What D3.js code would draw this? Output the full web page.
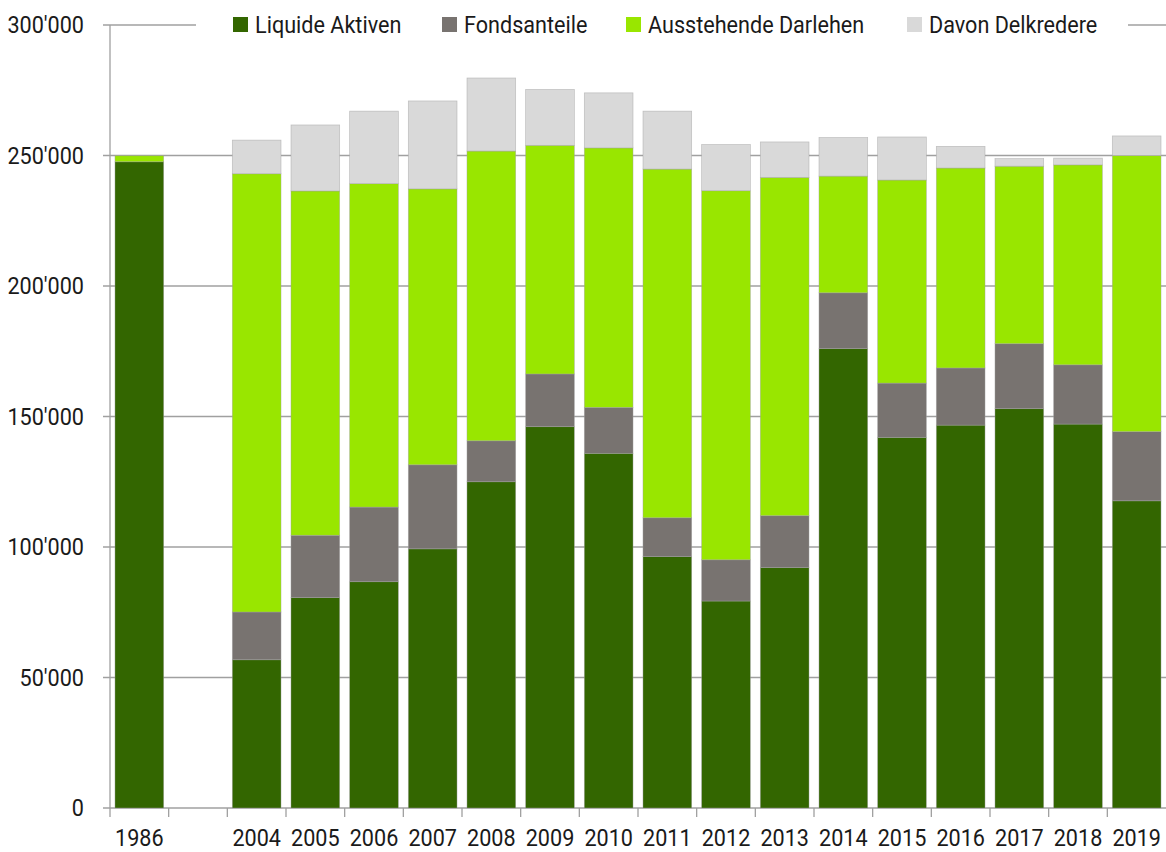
<!DOCTYPE html>
<html><head><meta charset="utf-8">
<script src="https://cdn.jsdelivr.net/npm/d3@7"></script>
<style>
html,body{margin:0;padding:0;background:#fff;}
svg{display:block;font-family:Roboto,"Liberation Sans",sans-serif;}
</style></head>
<body>
<svg id="chart" width="1166" height="852"></svg>
<script>
const categories = ["1986","","2004","2005","2006","2007","2008","2009","2010","2011","2012","2013","2014","2015","2016","2017","2018","2019"];
const liquideAktiven   = [247600,null,56800,80600,86700,99300,125000,146100,135900,96300,79300,92100,176000,142000,146700,153000,147100,117700];
const fondsanteile     = [0,null,18300,23900,28600,32200,15700,20200,17600,14900,15800,19900,21400,20800,21900,24900,22700,26500];
const ausstehendeDarlehen = [2300,null,167900,131900,123900,105700,111000,87600,99400,133600,141400,129600,44700,77800,76600,68000,76600,105800];
const davonDelkredere  = [0,null,12900,25300,27800,33700,28000,21400,21100,22200,17700,13600,14800,16500,8300,2900,2600,7500];
const seriesNames = ["Liquide Aktiven","Fondsanteile","Ausstehende Darlehen","Davon Delkredere"];
const colors = ["#336600","#787370","#99e600","#d9d9d9"];
const yTicks = [0,50000,100000,150000,200000,250000,300000];

const svg = d3.select("#chart");
const L = 110, R = 1166, T = 25, B = 808;
const SX = 0.9, FS = 24, TXT = "#1a1a1a";
const x = d3.scaleBand().domain(categories).range([L, R]).paddingInner(0.17).paddingOuter(0.085);
const y = d3.scaleLinear().domain([0, 300000]).range([B, T]);
const fmt = v => d3.format(",")(v).replace(/,/g, "'");

const table = categories.map((c, i) => ({
  cat: c,
  s0: liquideAktiven[i], s1: fondsanteile[i], s2: ausstehendeDarlehen[i], s3: davonDelkredere[i]
})).filter(d => d.s0 !== null);
const stack = d3.stack().keys(["s0","s1","s2","s3"])(table);

// gridlines
svg.append("g").selectAll("line").data(yTicks).join("line")
  .attr("x1", L - 7).attr("x2", R).attr("y1", d => y(d)).attr("y2", d => y(d))
  .attr("stroke", "#a0a0a0").attr("stroke-width", 1.3);

// y labels
svg.append("g").selectAll("text").data(yTicks).join("text")
  .attr("transform", d => `translate(84,${y(d)}) scale(${SX},1)`)
  .attr("dy", "0.35em")
  .attr("text-anchor", "end").attr("font-size", FS).attr("fill", TXT)
  .text(d => fmt(d));

// bars
svg.append("g").selectAll("g").data(stack).join("g")
  .attr("fill", (d, i) => colors[i])
  .selectAll("rect").data(d => d.filter(p => p[1] - p[0] > 0)).join("rect")
  .attr("x", d => x(d.data.cat)).attr("width", x.bandwidth())
  .attr("y", d => y(d[1])).attr("height", d => y(d[0]) - y(d[1]))
  .attr("stroke", "rgba(160,160,160,0.6)").attr("stroke-width", 0.7);

// y axis line
svg.append("line").attr("x1", L).attr("x2", L).attr("y1", T).attr("y2", B)
  .attr("stroke", "#a0a0a0").attr("stroke-width", 1.3);

// x axis ticks at boundaries
const step = x.step();
const bounds = d3.range(categories.length).map(i => L + i * step);
svg.append("g").selectAll("line").data(bounds).join("line")
  .attr("x1", d => d).attr("x2", d => d).attr("y1", B).attr("y2", B + 9)
  .attr("stroke", "#a0a0a0").attr("stroke-width", 1.3);

// x labels
svg.append("g").selectAll("text").data(categories.filter(c => c !== "")).join("text")
  .attr("transform", d => `translate(${x(d) + x.bandwidth() / 2},838) scale(${SX},1)`)
  .attr("dy", "0.35em")
  .attr("text-anchor", "middle").attr("font-size", FS).attr("fill", TXT)
  .text(d => d);

// legend
const legendX = [233, 442, 626, 907];
svg.append("rect").attr("x", 196).attr("y", 8).attr("width", 932).attr("height", 34).attr("fill", "#fff");
const lg = svg.append("g").selectAll("g").data(seriesNames).join("g")
  .attr("transform", (d, i) => `translate(${legendX[i]},0)`);
lg.append("rect").attr("x", 0).attr("y", 17).attr("width", 15).attr("height", 15)
  .attr("fill", (d, i) => colors[i]);
lg.append("text").attr("transform", `translate(22,25) scale(${SX},1)`).attr("dy", "0.35em")
  .attr("font-size", FS).attr("fill", TXT).text(d => d);
</script>
</body></html>
